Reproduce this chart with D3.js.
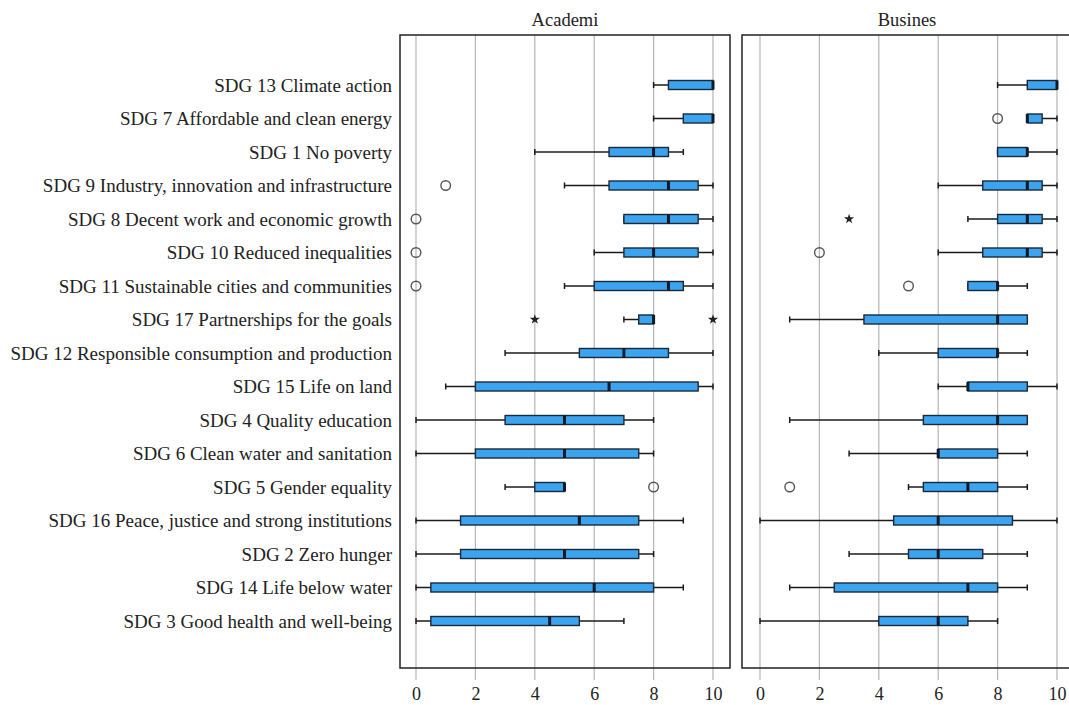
<!DOCTYPE html>
<html>
<head>
<meta charset="utf-8">
<script src="https://cdn.jsdelivr.net/npm/d3@7"></script>
<style>
  body { margin: 0; background: #fff; }
  svg text { font-family: "Liberation Serif", "Times New Roman", serif; fill: #222; }
</style>
</head>
<body>
<div id="chart"></div>
<script>
// SDG rows, top to bottom
const sdgLabels = [
  "SDG 13 Climate action",
  "SDG 7 Affordable and clean energy",
  "SDG 1 No poverty",
  "SDG 9 Industry, innovation and infrastructure",
  "SDG 8 Decent work and economic growth",
  "SDG 10 Reduced inequalities",
  "SDG 11 Sustainable cities and communities",
  "SDG 17 Partnerships for the goals",
  "SDG 12 Responsible consumption and production",
  "SDG 15 Life on land",
  "SDG 4 Quality education",
  "SDG 6 Clean water and sanitation",
  "SDG 5 Gender equality",
  "SDG 16 Peace, justice and strong institutions",
  "SDG 2 Zero hunger",
  "SDG 14 Life below water",
  "SDG 3 Good health and well-being"
];

// [whisker low, Q1, median, Q3, whisker high]
const academiaStats = [
  [8, 8.5, 10, 10, 10],
  [8, 9, 10, 10, 10],
  [4, 6.5, 8, 8.5, 9],
  [5, 6.5, 8.5, 9.5, 10],
  [7, 7, 8.5, 9.5, 10],
  [6, 7, 8, 9.5, 10],
  [5, 6, 8.5, 9, 10],
  [7, 7.5, 8, 8, 8],
  [3, 5.5, 7, 8.5, 10],
  [1, 2, 6.5, 9.5, 10],
  [0, 3, 5, 7, 8],
  [0, 2, 5, 7.5, 8],
  [3, 4, 5, 5, 5],
  [0, 1.5, 5.5, 7.5, 9],
  [0, 1.5, 5, 7.5, 8],
  [0, 0.5, 6, 8, 9],
  [0, 0.5, 4.5, 5.5, 7]
];
const businessStats = [
  [8, 9, 10, 10, 10],
  [9, 9, 9, 9.5, 10],
  [8, 8, 9, 9, 10],
  [6, 7.5, 9, 9.5, 10],
  [7, 8, 9, 9.5, 10],
  [6, 7.5, 9, 9.5, 10],
  [7, 7, 8, 8, 9],
  [1, 3.5, 8, 9, 9],
  [4, 6, 8, 8, 9],
  [6, 7, 7, 9, 10],
  [1, 5.5, 8, 9, 9],
  [3, 6, 6, 8, 9],
  [5, 5.5, 7, 8, 9],
  [0, 4.5, 6, 8.5, 10],
  [3, 5, 6, 7.5, 9],
  [1, 2.5, 7, 8, 9],
  [0, 4, 6, 7, 8]
];

// outliers (circles) and extremes (stars): [row index, value]
const academiaOutliers = [[3, 1], [4, 0], [5, 0], [6, 0], [12, 8]];
const academiaExtremes = [[7, 4], [7, 10]];
const businessOutliers = [[1, 8], [5, 2], [6, 5], [12, 1]];
const businessExtremes = [[4, 3]];

const xTicks = [0, 2, 4, 6, 8, 10];

const W = 1069, H = 705;
const plotTop = 35, plotBottom = 668;

const svg = d3.select("#chart").append("svg")
  .attr("width", W)
  .attr("height", H);

const y = d3.scalePoint()
  .domain(sdgLabels)
  .range([85, 621]);

// row labels
svg.append("g")
  .selectAll("text")
  .data(sdgLabels)
  .enter()
  .append("text")
  .attr("x", 392)
  .attr("y", d => y(d))
  .attr("dy", "0.35em")
  .attr("text-anchor", "end")
  .style("font-size", "19px")
  .text(d => d);

function drawPanel(title, left, right, x0, x1, stats, outliers, extremes) {
  const x = d3.scaleLinear().domain([0, 10]).range([x0, x1]);
  const g = svg.append("g");

  // grid + ticks below the frame
  g.selectAll("line.grid")
    .data(xTicks)
    .enter()
    .append("line")
    .attr("class", "grid")
    .attr("x1", d => x(d)).attr("x2", d => x(d))
    .attr("y1", plotTop).attr("y2", plotBottom + 12)
    .attr("stroke", "#b5b5b5")
    .attr("stroke-width", 1.2);

  const axis = d3.axisBottom(x).tickValues(xTicks).tickSize(0).tickPadding(0);
  const ax = g.append("g")
    .attr("transform", "translate(0," + (plotBottom + 19) + ")")
    .call(axis);
  ax.select(".domain").remove();
  ax.selectAll("text")
    .attr("dy", "0.71em")
    .style("font-family", "'Liberation Serif', serif")
    .style("font-size", "18px")
    .attr("fill", "#222");

  g.append("rect")
    .attr("x", left).attr("y", plotTop)
    .attr("width", right - left).attr("height", plotBottom - plotTop)
    .attr("fill", "none")
    .attr("stroke", "#222")
    .attr("stroke-width", 1.5);

  g.append("text")
    .attr("x", (left + right) / 2)
    .attr("y", 20)
    .attr("dy", "0.35em")
    .attr("text-anchor", "middle")
    .style("font-size", "18.5px")
    .text(title);

  const rows = g.selectAll("g.row")
    .data(stats)
    .enter()
    .append("g")
    .attr("class", "row")
    .attr("transform", (d, i) => "translate(0," + y(sdgLabels[i]) + ")");

  const bh = 9;

  rows.append("line")
    .attr("x1", d => x(d[0])).attr("x2", d => x(d[4]))
    .attr("y1", 0).attr("y2", 0)
    .attr("stroke", "#1b1b1b").attr("stroke-width", 1.5);

  rows.append("line")
    .attr("x1", d => x(d[0])).attr("x2", d => x(d[0]))
    .attr("y1", -3).attr("y2", 3)
    .attr("stroke", "#1b1b1b").attr("stroke-width", 1.5);
  rows.append("line")
    .attr("x1", d => x(d[4])).attr("x2", d => x(d[4]))
    .attr("y1", -3).attr("y2", 3)
    .attr("stroke", "#1b1b1b").attr("stroke-width", 1.5);

  rows.append("rect")
    .attr("x", d => x(d[1]))
    .attr("y", -bh / 2)
    .attr("width", d => x(d[3]) - x(d[1]))
    .attr("height", bh)
    .attr("fill", "#3ca3ef")
    .attr("stroke", "#1a2838")
    .attr("stroke-width", 1.4);

  rows.append("line")
    .attr("x1", d => x(d[2])).attr("x2", d => x(d[2]))
    .attr("y1", -bh / 2).attr("y2", bh / 2)
    .attr("stroke", "#0d1a2a").attr("stroke-width", 3);

  g.selectAll("circle.out")
    .data(outliers)
    .enter()
    .append("circle")
    .attr("class", "out")
    .attr("cx", d => x(d[1]))
    .attr("cy", d => y(sdgLabels[d[0]]))
    .attr("r", 4.8)
    .attr("fill", "none")
    .attr("stroke", "#555")
    .attr("stroke-width", 1.4);

  g.selectAll("path.ext")
    .data(extremes)
    .enter()
    .append("path")
    .attr("class", "ext")
    .attr("transform", d => "translate(" + x(d[1]) + "," + y(sdgLabels[d[0]]) + ")")
    .attr("d", d3.symbol().type(d3.symbolStar).size(32))
    .attr("fill", "#222");
}

drawPanel("Academi", 400, 730, 416, 713, academiaStats, academiaOutliers, academiaExtremes);
drawPanel("Busines", 742, 1072, 760, 1057, businessStats, businessOutliers, businessExtremes);
</script>
</body>
</html>
